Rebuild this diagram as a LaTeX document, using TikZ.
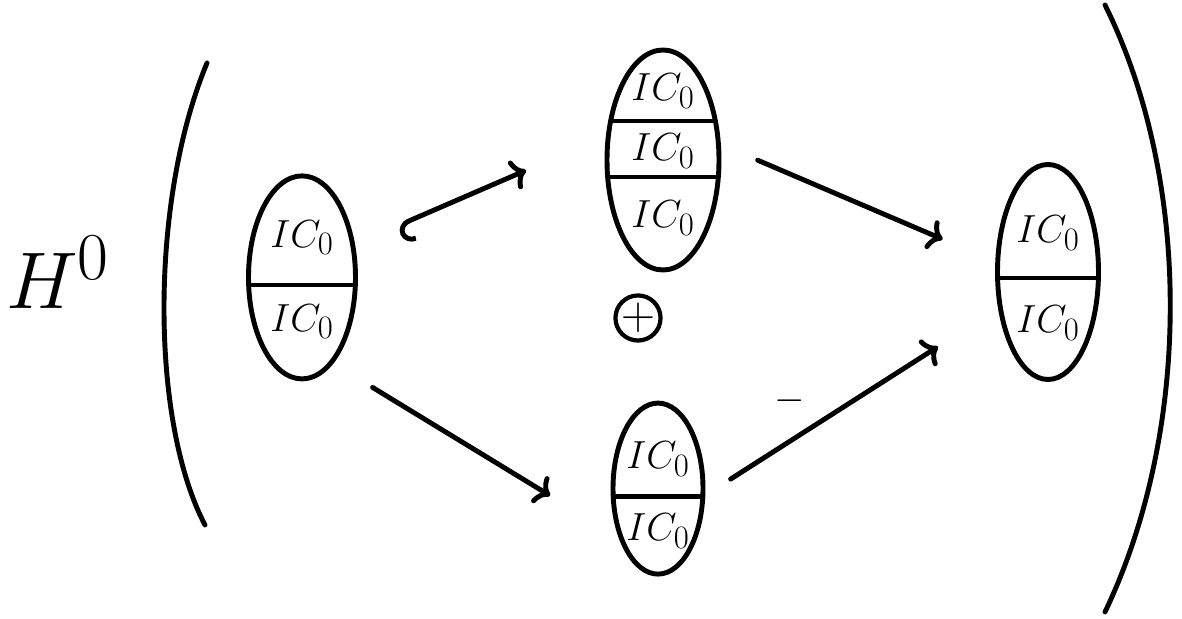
\documentclass[tikz,border=0pt]{standalone}
\usetikzlibrary{shapes.geometric,arrows.meta}
\begin{document}
\begin{tikzpicture}[line width=3.5pt,line cap=round,
  blob/.style={ellipse,draw,inner sep=0pt},
  split/.style={path picture={\foreach \d in {#1}
    \draw ([yshift=\d]path picture bounding box.west) -- ([yshift=\d]path picture bounding box.east);}},
  cell/.style={font=\Huge,scale=1.12},
  map/.style={-{To[length=10pt,width=22pt]}},
  incl/.style={{Hooks[left,width=30pt,length=9pt]}-{To[length=10pt,width=22pt]}}]
\useasboundingbox (0,0) rectangle (29.55,15.475);
\node[font=\Huge,scale=2.3] (H) at (1.45,8.675) {$H^0$};
\draw (5.175,13.9) .. controls (3.75,10.475) and (3.75,4.975) .. (5.125,2.35);
\draw (27.625,15.35) .. controls (29.8,10.975) and (29.8,4.725) .. (27.625,0.175);
% the four blobs
\node[blob,minimum width=2.675cm,minimum height=5.075cm,split={-0.19cm}] (l) at (7.55,8.54) {};
\node[blob,minimum width=2.8cm,minimum height=5.5cm,split={0.975cm,-0.425cm}] (tm) at (16.575,11.475) {};
\node[blob,minimum width=2.25cm,minimum height=4.275cm,split={-0.19cm}] (bm) at (16.45,3.26) {};
\node[blob,minimum width=2.525cm,minimum height=5.375cm,split={-0.15cm}] (r) at (26.2,8.675) {};
\node[cell] (l1) at ([yshift=0.99cm]l.center) {$IC_0$};
\node[cell] (l2) at ([yshift=-1.11cm]l.center) {$IC_0$};
\node[cell] (tm1) at ([yshift=1.725cm]tm.center) {$IC_0$};
\node[cell] (tm2) at ([yshift=0.225cm]tm.center) {$IC_0$};
\node[cell] (tm3) at ([yshift=-1.45cm]tm.center) {$IC_0$};
\node[cell] (bm1) at ([yshift=0.74cm]bm.center) {$IC_0$};
\node[cell] (bm2) at ([yshift=-1.06cm]bm.center) {$IC_0$};
\node[cell] (r1) at ([yshift=0.975cm]r.center) {$IC_0$};
\node[cell] (r2) at ([yshift=-1.275cm]r.center) {$IC_0$};
\node[circle,draw,line width=3pt,minimum size=0.85cm,inner sep=0pt,font=\Huge] (sum) at (15.95,7.525) {\scalebox{1.35}{$+$}};
% maps
\draw[incl,shorten <=1.14cm,shorten >=2.175cm] (l.32) -- (tm.157);
\draw[map,shorten <=1.15cm,shorten >=2cm] (l.-70) -- (bm.231);
\draw[map,shorten <=1cm,shorten >=1.43cm] (tm.15) -- (r.169);
\draw[map,shorten <=0.75cm,shorten >=1.78cm] (bm.-8) -- node (minus) [pos=0.29,yshift=1cm,cell] {$-$} (r.216);
\end{tikzpicture}
\end{document}
